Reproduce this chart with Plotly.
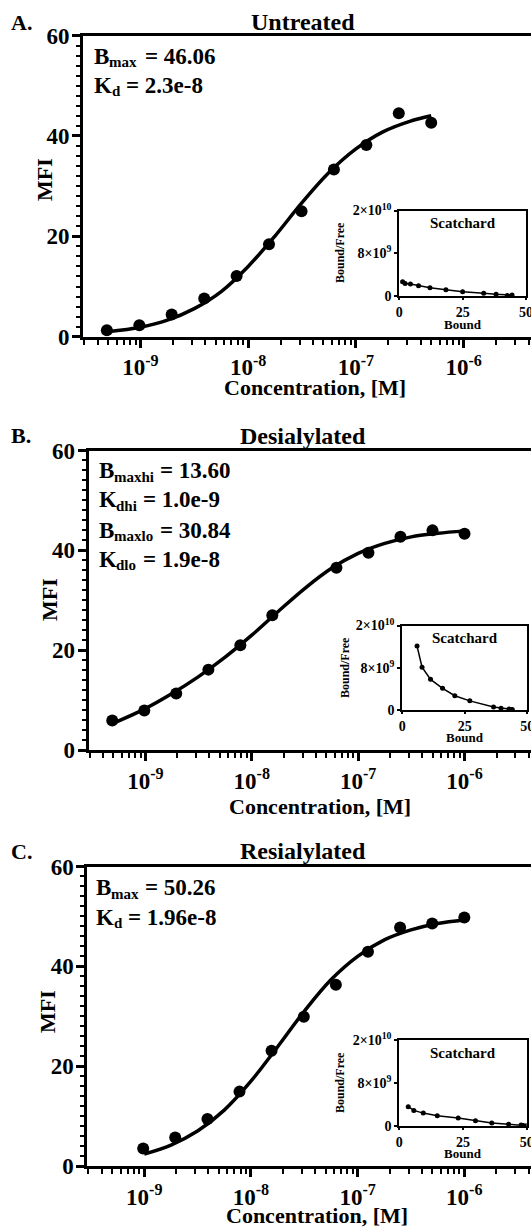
import plotly.graph_objects as go

W, H = 531, 1228

# ---------------- data ----------------
A_conc = [4.88e-10, 9.77e-10, 1.95e-9, 3.91e-9, 7.81e-9, 1.56e-8, 3.13e-8, 6.25e-8, 1.25e-7, 2.5e-7, 5e-7]
A_mfi = [1.3, 2.3, 4.4, 7.6, 12.1, 18.4, 25.0, 33.3, 38.2, 44.5, 42.6]
B_conc = [4.88e-10, 9.77e-10, 1.95e-9, 3.91e-9, 7.81e-9, 1.56e-8, 6.25e-8, 1.25e-7, 2.5e-7, 5e-7, 1e-6]
B_mfi = [5.9, 7.9, 11.3, 16.1, 21.0, 27.0, 36.5, 39.5, 42.7, 44.0, 43.3]
C_conc = [9.77e-10, 1.95e-9, 3.91e-9, 7.81e-9, 1.56e-8, 3.13e-8, 6.25e-8, 1.25e-7, 2.5e-7, 5e-7, 1e-6]
C_mfi = [3.5, 5.7, 9.4, 14.9, 23.1, 29.9, 36.3, 42.9, 47.8, 48.6, 49.8]

fitA_conc = [4.9e-10, 1e-9, 1.78e-9, 3.16e-9, 5.62e-9, 1e-8, 1.78e-8, 3.16e-8, 5.62e-8, 1e-7, 1.78e-7, 3.16e-7, 5e-7]
fitA_mfi = [1.0, 1.9, 3.3, 5.6, 9.0, 14.0, 20.1, 26.7, 32.7, 37.4, 40.8, 42.9, 44.0]
fitB_conc = [4.9e-10, 1e-9, 1.78e-9, 3.16e-9, 5.62e-9, 1e-8, 1.78e-8, 3.16e-8, 5.62e-8, 1e-7, 1.78e-7, 3.16e-7, 5.62e-7, 1e-6]
fitB_mfi = [5.3, 8.3, 11.3, 14.7, 18.6, 23.0, 27.8, 32.4, 36.4, 39.4, 41.4, 42.7, 43.4, 43.9]
fitC_conc = [1e-9, 1.78e-9, 3.16e-9, 5.62e-9, 1e-8, 1.78e-8, 3.16e-8, 5.62e-8, 1e-7, 1.78e-7, 3.16e-7, 5.62e-7, 1e-6]
fitC_mfi = [2.4, 4.2, 7.0, 11.2, 17.0, 23.9, 31.0, 37.3, 42.0, 45.3, 47.3, 48.6, 49.3]

scA_bound = [1.3, 2.3, 4.4, 7.6, 12.1, 18.4, 25.0, 33.3, 38.2, 44.5, 42.6]
scA_bf = [2.66e9, 2.35e9, 2.26e9, 1.94e9, 1.55e9, 1.18e9, 0.80e9, 0.53e9, 0.31e9, 0.18e9, 0.085e9]
scB_bound = [5.9, 7.9, 11.3, 16.1, 21.0, 27.0, 36.5, 39.5, 42.7, 44.0, 43.3]
scB_bf = [12.1e9, 8.1e9, 5.8e9, 4.1e9, 2.7e9, 1.73e9, 0.58e9, 0.32e9, 0.17e9, 0.088e9, 0.043e9]
scC_bound = [3.5, 5.7, 9.4, 14.9, 23.1, 29.9, 36.3, 42.9, 47.8, 48.6, 49.8]
scC_bf = [3.6e9, 2.9e9, 2.4e9, 1.9e9, 1.48e9, 0.96e9, 0.58e9, 0.34e9, 0.19e9, 0.097e9, 0.05e9]

x_tickvals = [1e-9, 1e-8, 1e-7, 1e-6, 1e-5]
x_ticktext = ["10<sup>-9</sup>", "10<sup>-8</sup>", "10<sup>-7</sup>", "10<sup>-6</sup>", "10<sup>-5</sup>"]
y_tickvals = [0, 20, 40, 60]
in_x_tickvals = [0, 25, 50]
in_y_tickvals = [0, 8e9, 1.6e10]
in_y_ticktext = ["0", "8×10<sup>9</sup>", "2×10<sup>10</sup>"]

# fitted parameters: (symbol, subscript, value text)
paramsA = [("B", "max", "= 46.06"), ("K", "d", "= 2.3e-8")]
paramsB = [("B", "maxhi", "= 13.60"), ("K", "dhi", "= 1.0e-9"),
           ("B", "maxlo", "= 30.84"), ("K", "dlo", "= 1.9e-8")]
paramsC = [("B", "max", "= 50.26"), ("K", "d", "= 1.96e-8")]

panels = [
    dict(letter="A.", title="Untreated", conc=A_conc, mfi=A_mfi, fx=fitA_conc, fy=fitA_mfi,
         sb=scA_bound, sf=scA_bf, params=paramsA),
    dict(letter="B.", title="Desialylated", conc=B_conc, mfi=B_mfi, fx=fitB_conc, fy=fitB_mfi,
         sb=scB_bound, sf=scB_bf, params=paramsB),
    dict(letter="C.", title="Resialylated", conc=C_conc, mfi=C_mfi, fx=fitC_conc, fy=fitC_mfi,
         sb=scC_bound, sf=scC_bf, params=paramsC),
]

# ---------------- layout geometry (pixels) ----------------
geo = [
    dict(main_x0=83, main_y=(35.5, 336.7), ins_x=(399.3, 526), ins_y=(210.5, 296),
         letter_y=22.5, title_y=22, param_x=93, param_y=[56, 85], param_end=[217, 204],
         mfi_x=44, mfi_y=180, xt_x=315, xt_y=387,
         sc_y=223, bound_y=324, bf_x=340, bf_y=253),
    dict(main_x0=88.7, main_y=(450.5, 750), ins_x=(402.3, 527.3), ins_y=(625.5, 710),
         letter_y=436, title_y=436, param_x=97.5, param_y=[470.5, 499.5, 530, 559.5],
         param_end=[231.5, 220.5, 231.5, 220.5],
         mfi_x=49, mfi_y=600, xt_x=320, xt_y=806,
         sc_y=638, bound_y=737.5, bf_x=345, bf_y=668),
    dict(main_x0=87.4, main_y=(866.5, 1166), ins_x=(399.3, 526.7), ins_y=(1040, 1126),
         letter_y=851, title_y=851, param_x=95, param_y=[887.5, 917.5], param_end=[217, 217],
         mfi_x=47, mfi_y=1012, xt_x=317, xt_y=1215,
         sc_y=1053, bound_y=1153, bf_x=340, bf_y=1083),
]

def px(x):
    return x / W

def py(y):
    return 1 - y / H

FONT = "Liberation Serif"
PARAM_SIZE = 23
SUB_SIZE = 15
LETTER_W = {"B": 0.667, "K": 0.778}
minor_x = [k * 10 ** e for e in range(-10, -4) for k in range(2, 10)]

fig = go.Figure()
annotations = []
layout_axes = {}


def ann(text, x, y, size, xanchor="center", angle=0):
    annotations.append(dict(text=text, x=px(x), y=py(y), xref="paper", yref="paper",
                            xanchor=xanchor, yanchor="middle", showarrow=False,
                            textangle=angle, borderpad=0,
                            font=dict(size=size, family=FONT, color="black", weight="bold")))


for i, (p, g) in enumerate(zip(panels, geo)):
    mi = 2 * i + 1
    ii = 2 * i + 2
    mx, my = f"x{mi}", f"y{mi}"
    ix, iy = f"x{ii}", f"y{ii}"

    fig.add_trace(go.Scatter(x=p["fx"], y=p["fy"], mode="lines", xaxis=mx, yaxis=my,
                             line=dict(color="black", width=3.5, shape="spline", smoothing=1),
                             showlegend=False, hoverinfo="skip"))
    fig.add_trace(go.Scatter(x=p["conc"], y=p["mfi"], mode="markers", xaxis=mx, yaxis=my,
                             marker=dict(color="black", size=12), showlegend=False))
    fig.add_trace(go.Scatter(x=p["sb"], y=p["sf"], mode="lines+markers", xaxis=ix, yaxis=iy,
                             line=dict(color="black", width=1.5),
                             marker=dict(color="black", size=5), showlegend=False))

    sfx = "" if mi == 1 else str(mi)
    layout_axes[f"xaxis{sfx}"] = dict(
        type="log", range=[-9.533, -5.375], domain=[px(g["main_x0"]), 1.0],
        anchor=my, showline=True, linewidth=3, linecolor="black", mirror=True,
        ticks="outside", ticklen=8, tickwidth=2.5, tickcolor="black",
        tickmode="array", tickvals=x_tickvals, ticktext=x_ticktext,
        tickfont=dict(size=23, family=FONT, color="black", weight="bold"),
        minor=dict(ticks="outside", ticklen=5, tickwidth=2, tickcolor="black",
                   tickmode="array", tickvals=minor_x, showgrid=False),
        showgrid=False, zeroline=False,
    )
    layout_axes[f"yaxis{mi}"] = dict(
        range=[0, 60], domain=[py(g["main_y"][1]), py(g["main_y"][0])],
        anchor=mx, showline=True, linewidth=3, linecolor="black", mirror=False,
        ticks="outside", ticklen=8, tickwidth=2.5, tickcolor="black",
        tickmode="array", tickvals=y_tickvals, ticklabelstandoff=-2,
        tickfont=dict(size=23, family=FONT, color="black", weight="bold"),
        minor=dict(ticks="outside", ticklen=4, tickwidth=1.5, tickcolor="black", dtick=2,
                   showgrid=False),
        showgrid=False, zeroline=False,
    )
    layout_axes[f"xaxis{ii}"] = dict(
        range=[0, 50], domain=[px(g["ins_x"][0]), px(g["ins_x"][1])],
        anchor=iy, showline=True, linewidth=2, linecolor="black", mirror=True,
        ticks="outside", ticklen=2, tickwidth=1.5, tickcolor="black",
        tickmode="array", tickvals=in_x_tickvals, ticklabeloverflow="allow",
        tickfont=dict(size=14, family=FONT, color="black", weight="bold"),
        showgrid=False, zeroline=False,
    )
    layout_axes[f"yaxis{ii}"] = dict(
        range=[0, 1.6e10], domain=[py(g["ins_y"][1]), py(g["ins_y"][0])],
        anchor=ix, showline=True, linewidth=2, linecolor="black", mirror=True,
        ticks="outside", ticklen=3, tickwidth=1.5, tickcolor="black",
        tickmode="array", tickvals=in_y_tickvals, ticktext=in_y_ticktext,
        tickfont=dict(size=14, family=FONT, color="black", weight="bold"),
        showgrid=False, zeroline=False,
    )

    ann(p["letter"], 10, g["letter_y"], 22, xanchor="left")
    ann(p["title"], 303, g["title_y"], 24)
    for (sym, sub, val), yy, xend in zip(p["params"], g["param_y"], g["param_end"]):
        x0 = g["param_x"]
        ann(sym, x0, yy, PARAM_SIZE, xanchor="left")
        ann(sub, x0 + LETTER_W[sym] * PARAM_SIZE, yy + 6, SUB_SIZE, xanchor="left")
        ann(val, xend, yy, PARAM_SIZE, xanchor="right")
    ann("MFI", g["mfi_x"], g["mfi_y"], 22, angle=-90)
    ann("Concentration, [M]", g["xt_x"], g["xt_y"], 22)
    ann("Scatchard", (g["ins_x"][0] + g["ins_x"][1]) / 2, g["sc_y"], 15)
    ann("Bound", (g["ins_x"][0] + g["ins_x"][1]) / 2, g["bound_y"], 13)
    ann("Bound/Free", g["bf_x"], g["bf_y"], 12, angle=-90)

fig.update_layout(
    width=W, height=H, margin=dict(l=0, r=0, t=0, b=0),
    paper_bgcolor="white", plot_bgcolor="white", template="none",
    font=dict(family=FONT, color="black", weight="bold"),
    annotations=annotations, showlegend=False,
    **layout_axes,
)

fig.write_html("out.html")
